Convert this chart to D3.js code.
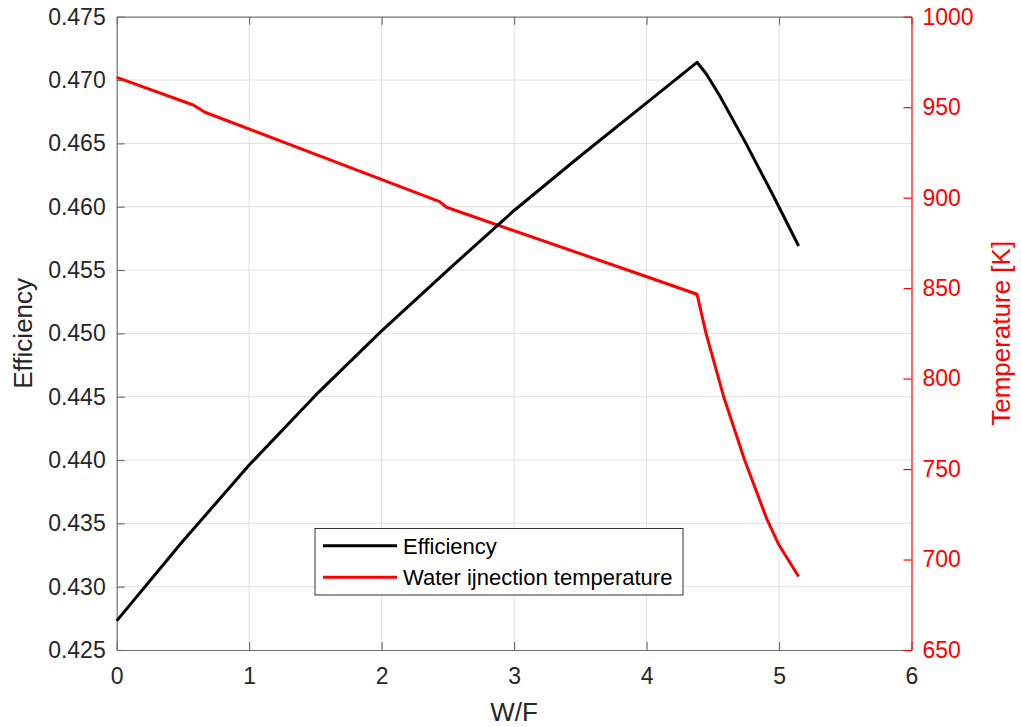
<!DOCTYPE html>
<html><head><meta charset="utf-8">
<script src="https://cdn.jsdelivr.net/npm/d3@7"></script>
<style>body{margin:0;background:#fff}svg{display:block}text{font-family:"Liberation Sans",Arial,sans-serif}</style>
</head><body><svg id="c" width="1021" height="727"></svg>
<script>
const effWF = [0, 0.5, 1, 1.5, 2, 2.5, 3, 3.5, 4, 4.381, 4.45, 4.55, 4.75, 4.95, 5.148];
const effVals = [0.4273, 0.4336, 0.4396, 0.4451, 0.4502, 0.4550, 0.4597, 0.4640, 0.4682, 0.4714, 0.4705, 0.4688, 0.4650, 0.4610, 0.4569];
const tempWF = [0, 0.578, 0.666, 2.438, 2.489, 3.997, 4.381, 4.449, 4.582, 4.74, 4.91, 5.0, 5.148];
const tempVals = [966.5, 951.2, 947.2, 897.8, 894.7, 856.4, 846.6, 825, 790, 755, 722, 708, 690.6];
const xTicks = [0, 1, 2, 3, 4, 5, 6];
const yLeftTicks = [0.425, 0.43, 0.435, 0.44, 0.445, 0.45, 0.455, 0.46, 0.465, 0.47, 0.475];
const yRightTicks = [650, 700, 750, 800, 850, 900, 950, 1000];
const legendLabels = ["Efficiency", "Water ijnection temperature"];

(function(){
const L = 116.7, R = 911.5, T = 16.7, B = 650;
const svg = d3.select("#c");
const x = d3.scaleLinear().domain([0, 6]).range([L, R]);
const yl = d3.scaleLinear().domain([0.425, 0.475]).range([B, T]);
const yr = d3.scaleLinear().domain([650, 1000]).range([B, T]);
const axisCol = "#707070", fs = 23, ff = "Liberation Sans, Arial, sans-serif";

// grid
const g = svg.append("g");
g.selectAll(".gx").data(xTicks.slice(1, -1)).enter().append("line")
  .attr("x1", d => x(d)).attr("x2", d => x(d)).attr("y1", T).attr("y2", B)
  .attr("stroke", "#e0e0e0").attr("stroke-width", 1);
g.selectAll(".gy").data(yLeftTicks.slice(1, -1)).enter().append("line")
  .attr("x1", L).attr("x2", R).attr("y1", d => yl(d)).attr("y2", d => yl(d))
  .attr("stroke", "#e0e0e0").attr("stroke-width", 1);

// axes
const fmt3 = d3.format(".3f");
const axB = svg.append("g").attr("transform", `translate(0,${B})`)
  .call(d3.axisBottom(x).tickValues(xTicks).tickSizeInner(-8).tickSizeOuter(0).tickPadding(18).tickFormat(d3.format("d")));
const axT = svg.append("g").attr("transform", `translate(0,${T})`)
  .call(d3.axisTop(x).tickValues(xTicks).tickSizeInner(-8).tickSizeOuter(0).tickFormat(""));
const axL = svg.append("g").attr("transform", `translate(${L},0)`)
  .call(d3.axisLeft(yl).tickValues(yLeftTicks).tickSizeInner(-8).tickSizeOuter(0).tickPadding(11).tickFormat(fmt3));
const axR = svg.append("g").attr("transform", `translate(${R},0)`)
  .call(d3.axisRight(yr).tickValues(yRightTicks).tickSizeInner(-8).tickSizeOuter(0).tickPadding(11).tickFormat(d3.format("d")));
[axB, axT, axL].forEach(a => {
  a.selectAll("path").attr("stroke", axisCol).attr("stroke-width", 1.2);
  a.selectAll("line").attr("stroke", axisCol).attr("stroke-width", 1.2);
  a.selectAll("text").attr("fill", "#262626").attr("font-size", fs).attr("font-family", ff);
});
axR.selectAll("path").attr("stroke", "#ff0000").attr("stroke-width", 1.2);
axR.selectAll("line").attr("stroke", "#ff0000").attr("stroke-width", 1.2);
axR.selectAll("text").attr("fill", "#ff0000").attr("font-size", fs).attr("font-family", ff);

// lines
const effData = effWF.map((w, i) => [w, effVals[i]]);
const tempData = tempWF.map((w, i) => [w, tempVals[i]]);
svg.append("path").datum(tempData).attr("fill", "none").attr("stroke", "#ff0000").attr("stroke-width", 3)
  .attr("stroke-linejoin", "round").attr("d", d3.line().x(d => x(d[0])).y(d => yr(d[1])));
svg.append("path").datum(effData).attr("fill", "none").attr("stroke", "#000").attr("stroke-width", 3)
  .attr("stroke-linejoin", "round").attr("d", d3.line().x(d => x(d[0])).y(d => yl(d[1])));

// axis labels
svg.append("text").attr("x", x(3)).attr("y", 721).attr("text-anchor", "middle")
  .attr("font-size", 26).attr("fill", "#262626").text("W/F");
svg.append("text").attr("transform", `translate(32,${(T + B) / 2}) rotate(-90)`).attr("text-anchor", "middle")
  .attr("font-size", 26).attr("fill", "#262626").text("Efficiency");
svg.append("text").attr("transform", `translate(1010,${(T + B) / 2}) rotate(-90)`).attr("text-anchor", "middle")
  .attr("font-size", 26).attr("fill", "#ff0000").text("Temperature [K]");

// legend
const lg = svg.append("g");
lg.append("rect").attr("x", 315).attr("y", 528.5).attr("width", 368).attr("height", 66.5)
  .attr("fill", "#fff").attr("stroke", "#333").attr("stroke-width", 1);
const lcol = ["#000", "#ff0000"];
legendLabels.forEach((t, i) => {
  const yy = 545.7 + i * 31.6;
  lg.append("line").attr("x1", 323).attr("x2", 397).attr("y1", yy).attr("y2", yy)
    .attr("stroke", lcol[i]).attr("stroke-width", 3);
  lg.append("text").attr("x", 403).attr("y", yy + 8).attr("font-size", 22).attr("fill", "#000").text(t);
});
})();
</script></body></html>
